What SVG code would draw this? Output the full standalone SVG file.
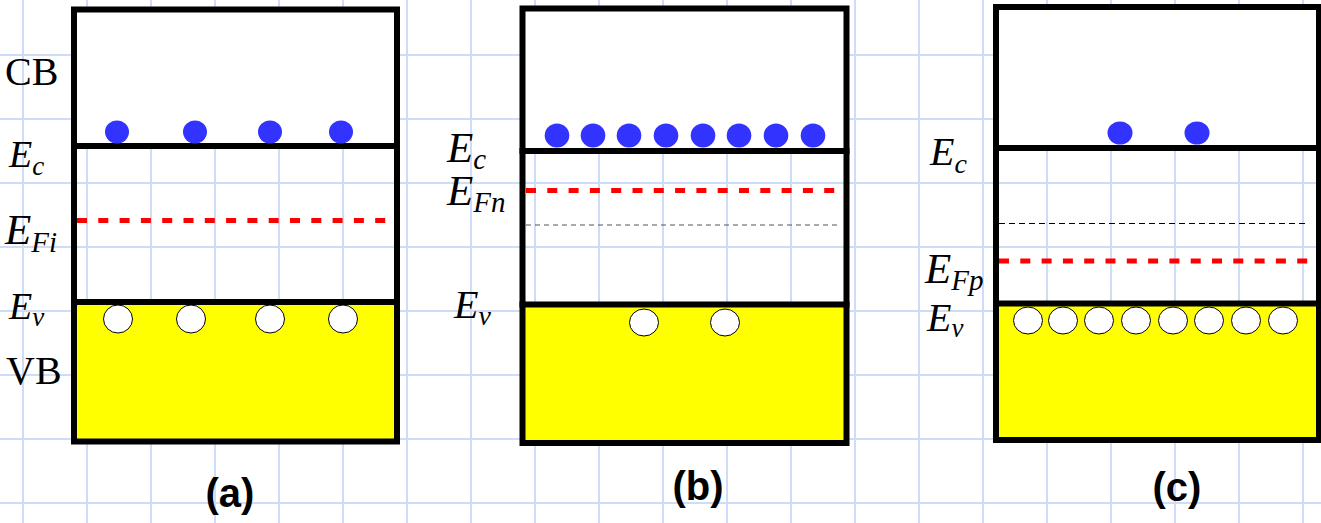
<svg xmlns="http://www.w3.org/2000/svg" width="1321" height="523" viewBox="0 0 1321 523">
<defs>
<style>
.grid line{stroke:#cfdcf8;stroke-width:2}
.frame{fill:none;stroke:#000;stroke-width:6}
.cb{fill:#fff}
.vb{fill:#ffff00}
.band{stroke:#000;stroke-width:6}
.ef{stroke:#ff0000;stroke-width:5;stroke-dasharray:10 11.3}
.ei{stroke:#555;stroke-width:1.2;stroke-dasharray:5 4}
.ei2{stroke:#000;stroke-width:1;stroke-dasharray:6 4}
.el{fill:#3333ff}
.ho{fill:#fff;stroke:#000;stroke-width:1}
.lbl{font-family:"Liberation Serif","Times New Roman",serif;fill:#000}
.it{font-style:italic}
.cap{font-family:"Liberation Sans",Arial,sans-serif;font-weight:bold;font-size:40px;text-anchor:middle;fill:#000}
</style>
</defs>
<rect width="1321" height="523" fill="#fff"/>
<g class="grid" id="grid">
<line x1="23" y1="0" x2="23" y2="523"/><line x1="87" y1="0" x2="87" y2="523"/><line x1="151" y1="0" x2="151" y2="523"/><line x1="215" y1="0" x2="215" y2="523"/><line x1="279" y1="0" x2="279" y2="523"/><line x1="343" y1="0" x2="343" y2="523"/><line x1="407" y1="0" x2="407" y2="523"/><line x1="471" y1="0" x2="471" y2="523"/><line x1="535" y1="0" x2="535" y2="523"/><line x1="599" y1="0" x2="599" y2="523"/><line x1="663" y1="0" x2="663" y2="523"/><line x1="727" y1="0" x2="727" y2="523"/><line x1="791" y1="0" x2="791" y2="523"/><line x1="855" y1="0" x2="855" y2="523"/><line x1="919" y1="0" x2="919" y2="523"/><line x1="983" y1="0" x2="983" y2="523"/><line x1="1047" y1="0" x2="1047" y2="523"/><line x1="1111" y1="0" x2="1111" y2="523"/><line x1="1175" y1="0" x2="1175" y2="523"/><line x1="1239" y1="0" x2="1239" y2="523"/><line x1="1303" y1="0" x2="1303" y2="523"/>
<line x1="0" y1="55" x2="1321" y2="55"/><line x1="0" y1="119" x2="1321" y2="119"/><line x1="0" y1="183" x2="1321" y2="183"/><line x1="0" y1="247" x2="1321" y2="247"/><line x1="0" y1="311" x2="1321" y2="311"/><line x1="0" y1="375" x2="1321" y2="375"/><line x1="0" y1="439" x2="1321" y2="439"/><line x1="0" y1="503" x2="1321" y2="503"/>
</g>

<g id="panel-a">
<rect class="cb" x="74" y="9.5" width="323" height="136.5"/>
<rect class="vb" x="74" y="302" width="323" height="139.5"/>
<line class="ef" x1="77" y1="220.5" x2="394" y2="220.5"/>
<line class="band" x1="71" y1="146" x2="400" y2="146"/>
<line class="band" x1="71" y1="302" x2="400" y2="302"/>
<rect class="frame" x="74" y="9.5" width="323" height="432"/>
<ellipse class="el" cx="117" cy="132" rx="12" ry="11.5"/><ellipse class="el" cx="195" cy="132" rx="12" ry="11.5"/><ellipse class="el" cx="270" cy="132" rx="12" ry="11.5"/><ellipse class="el" cx="341" cy="132" rx="12" ry="11.5"/>
<ellipse class="ho" cx="118" cy="319" rx="14.5" ry="14"/><ellipse class="ho" cx="191" cy="319" rx="14.5" ry="14"/><ellipse class="ho" cx="270" cy="319" rx="14.5" ry="14"/><ellipse class="ho" cx="343" cy="319" rx="14.5" ry="14"/>
<text class="lbl" x="5" y="85" font-size="40">CB</text>
<text class="lbl it" x="9" y="167" font-size="38">E<tspan font-size="27" dy="8">c</tspan></text>
<text class="lbl it" x="5" y="244" font-size="43">E<tspan font-size="29" dy="8">Fi</tspan></text>
<text class="lbl it" x="9" y="319" font-size="38">E<tspan font-size="27" dy="7">v</tspan></text>
<text class="lbl" x="6" y="384" font-size="40">VB</text>
<text class="cap" x="230" y="507">(a)</text>
</g>

<g id="panel-b">
<rect class="cb" x="522.5" y="8.5" width="324" height="142.5"/>
<rect class="vb" x="522.5" y="304.5" width="324" height="138.5"/>
<line class="ef" x1="526" y1="190.5" x2="844" y2="190.5"/>
<line class="ei" x1="526" y1="225" x2="838" y2="225"/>
<line class="band" x1="519.5" y1="151" x2="849.5" y2="151"/>
<line class="band" x1="519.5" y1="304.5" x2="849.5" y2="304.5"/>
<rect class="frame" x="522.5" y="8.5" width="324" height="434.5"/>
<ellipse class="el" cx="557" cy="135.5" rx="12.3" ry="12"/><ellipse class="el" cx="593" cy="135.5" rx="12.3" ry="12"/><ellipse class="el" cx="629" cy="135.5" rx="12.3" ry="12"/><ellipse class="el" cx="666" cy="135.5" rx="12.3" ry="12"/><ellipse class="el" cx="703" cy="135.5" rx="12.3" ry="12"/><ellipse class="el" cx="739" cy="135.5" rx="12.3" ry="12"/><ellipse class="el" cx="776" cy="135.5" rx="12.3" ry="12"/><ellipse class="el" cx="813" cy="135.5" rx="12.3" ry="12"/>
<ellipse class="ho" cx="644" cy="322.5" rx="14.5" ry="13.5"/><ellipse class="ho" cx="725" cy="322.5" rx="14.5" ry="13.5"/>
<text class="lbl it" x="447" y="162" font-size="43">E<tspan font-size="29" dy="7">c</tspan></text>
<text class="lbl it" x="447" y="205" font-size="43">E<tspan font-size="29" dy="7">Fn</tspan></text>
<text class="lbl it" x="454" y="318" font-size="40">E<tspan font-size="28" dy="7">v</tspan></text>
<text class="cap" x="698" y="500">(b)</text>
</g>

<g id="panel-c">
<rect class="cb" x="996" y="7" width="323" height="141"/>
<rect class="vb" x="996" y="303.5" width="323" height="136.5"/>
<line class="ei2" x1="999" y1="223.5" x2="1309" y2="223.5"/>
<line class="ef" x1="999" y1="261" x2="1319" y2="261"/>
<line class="band" x1="993" y1="148" x2="1322" y2="148"/>
<line class="band" x1="993" y1="303.5" x2="1322" y2="303.5"/>
<rect class="frame" x="996" y="7" width="323" height="433"/>
<ellipse class="el" cx="1120" cy="133" rx="12.5" ry="11.5"/><ellipse class="el" cx="1197" cy="133" rx="12.5" ry="11.5"/>
<ellipse class="ho" cx="1028" cy="320.5" rx="14.5" ry="13.5"/><ellipse class="ho" cx="1063" cy="320.5" rx="14.5" ry="13.5"/><ellipse class="ho" cx="1099" cy="320.5" rx="14.5" ry="13.5"/><ellipse class="ho" cx="1136" cy="320.5" rx="14.5" ry="13.5"/><ellipse class="ho" cx="1173" cy="320.5" rx="14.5" ry="13.5"/><ellipse class="ho" cx="1209" cy="320.5" rx="14.5" ry="13.5"/><ellipse class="ho" cx="1246" cy="320.5" rx="14.5" ry="13.5"/><ellipse class="ho" cx="1283" cy="320.5" rx="14.5" ry="13.5"/>
<text class="lbl it" x="930" y="165" font-size="40">E<tspan font-size="28" dy="8">c</tspan></text>
<text class="lbl it" x="925" y="283" font-size="43">E<tspan font-size="29" dy="7">Fp</tspan></text>
<text class="lbl it" x="927" y="331" font-size="40">E<tspan font-size="27" dy="6">v</tspan></text>
<text class="cap" x="1177" y="501">(c)</text>
</g>
</svg>
